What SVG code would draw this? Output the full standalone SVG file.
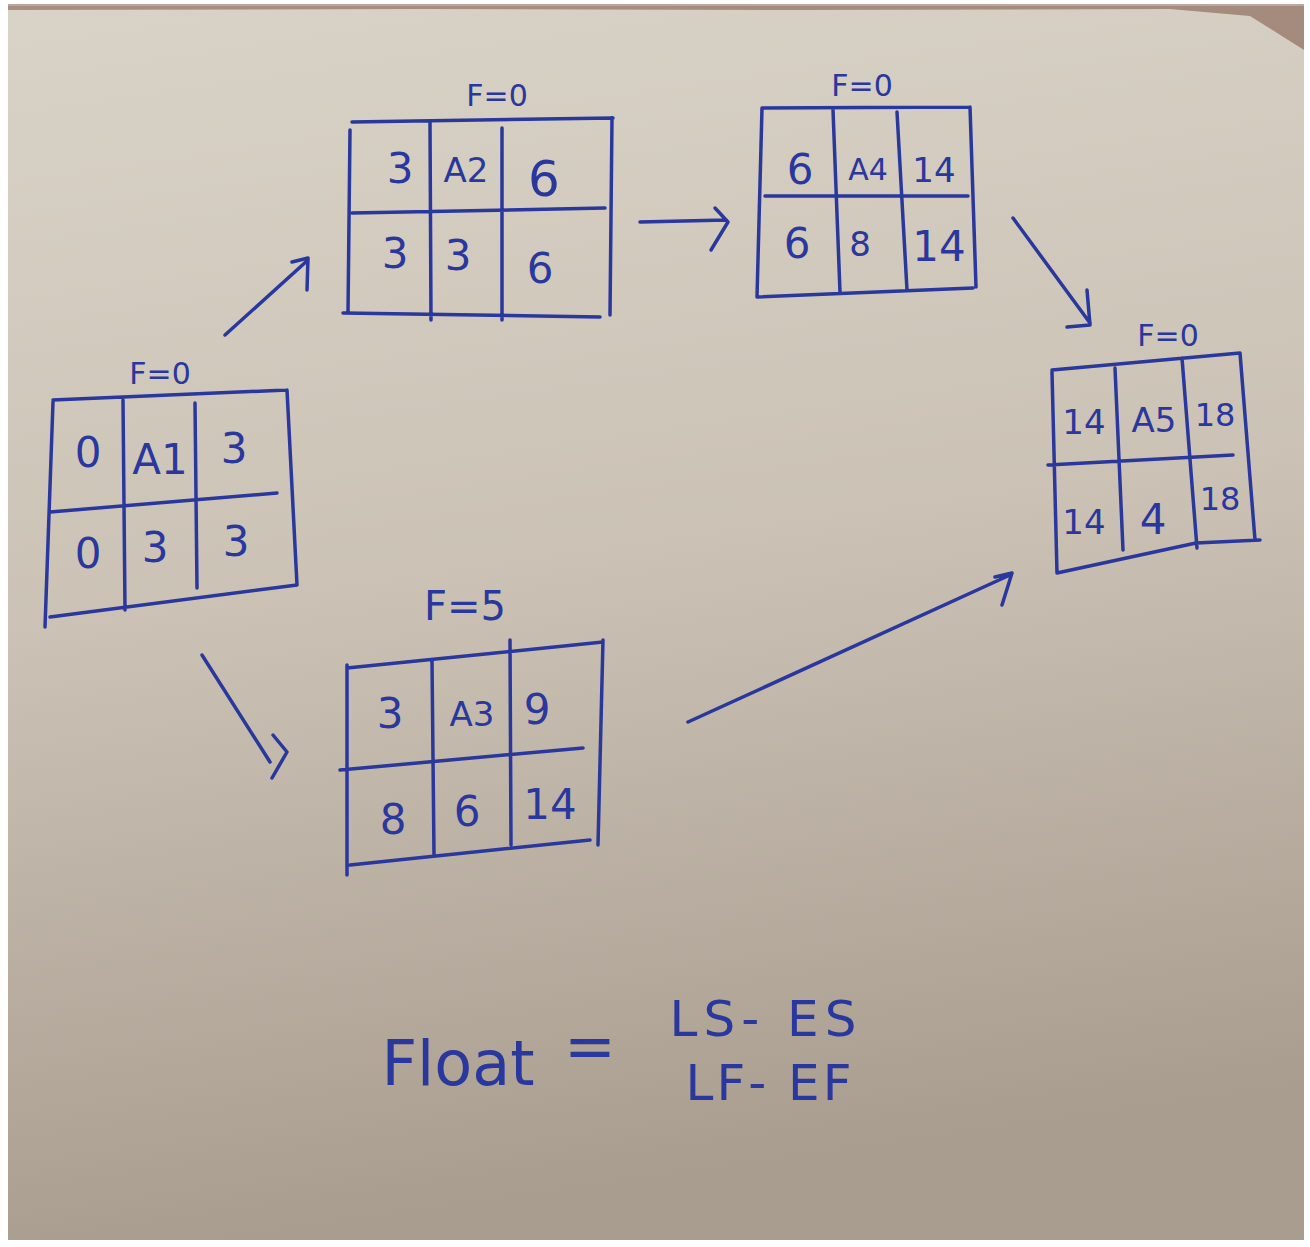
<svg xmlns="http://www.w3.org/2000/svg" width="1310" height="1247" viewBox="0 0 1310 1247">
<defs>
<linearGradient id="paper" x1="0" y1="0" x2="0.15" y2="1">
<stop offset="0" stop-color="#d9d3c7"/>
<stop offset="0.5" stop-color="#cbc2b5"/>
<stop offset="1" stop-color="#a99d8f"/>
</linearGradient>
<style>
.ink{fill:none;stroke:#2a379c;stroke-width:3.5;stroke-linecap:round;stroke-linejoin:round}
.t{font-family:"DejaVu Sans","Liberation Sans",sans-serif;fill:#2a379c;text-anchor:middle}
.c{font-size:42px}
.s{font-size:34px}
.f{font-size:30px}
.big{font-size:62px}
.frm{font-size:50px}
</style>
</defs>
<rect width="1310" height="1247" fill="#ffffff"/>
<rect x="8" y="6" width="1296" height="1234" fill="url(#paper)"/>
<path d="M8,4 L1304,4 L1304,50 L1250,16 L1170,9 L800,10 L420,9 L8,10 Z" fill="#6b3a2a" opacity="0.45"/>

<g id="node-A1">
<text class="t f" x="160" y="384">F=0</text>
<path class="ink" d="M53,400 L287,390 M53,402 L45,627 M287,390 L297,585 M50,617 L297,585 M50,512 L277,493 M123,400 L125,610 M195,403 L197,588"/>
<text class="t c" x="88" y="467">0</text>
<text class="t c" x="160" y="474">A1</text>
<text class="t c" x="234" y="463">3</text>
<text class="t c" x="88" y="568">0</text>
<text class="t c" x="155" y="562">3</text>
<text class="t c" x="236" y="556">3</text>
</g>

<g id="node-A2">
<text class="t f" x="497" y="106">F=0</text>
<path class="ink" d="M352,122 L613,118 M350,130 L348,313 M612,118 L610,315 M343,313 L600,317 M352,213 L605,208 M430,122 L431,320 M502,128 L502,320"/>
<text class="t c" x="400" y="183">3</text>
<text class="t s" x="466" y="182">A2</text>
<text class="t" style="font-size:50px" x="544" y="196">6</text>
<text class="t c" x="395" y="268">3</text>
<text class="t c" x="458" y="270">3</text>
<text class="t c" x="540" y="283">6</text>
</g>

<g id="node-A4">
<text class="t f" x="862" y="96">F=0</text>
<path class="ink" d="M762,108 L970,107 M762,108 L757,297 M970,107 L976,287 M757,297 L973,288 M765,196 L968,196 M833,110 L840,292 M897,112 L907,290"/>
<text class="t c" x="800" y="184">6</text>
<text class="t" style="font-size:30px" x="868" y="180">A4</text>
<text class="t s" x="934" y="182">14</text>
<text class="t c" x="797" y="258">6</text>
<text class="t s" x="860" y="256">8</text>
<text class="t c" x="939" y="261">14</text>
</g>

<g id="node-A5">
<text class="t f" x="1168" y="346">F=0</text>
<path class="ink" d="M1052,370 L1240,353 M1052,372 L1057,573 M1240,353 L1255,540 M1057,573 L1196,543 L1260,540 M1048,465 L1233,455 M1115,368 L1123,550 M1182,358 L1197,548"/>
<text class="t s" x="1084" y="434">14</text>
<text class="t s" x="1154" y="432">A5</text>
<text class="t" style="font-size:32px" x="1215" y="426">18</text>
<text class="t s" x="1084" y="534">14</text>
<text class="t c" x="1153" y="534">4</text>
<text class="t" style="font-size:32px" x="1220" y="510">18</text>
</g>

<g id="node-A3">
<text class="t" style="font-size:40px" x="465" y="620">F=5</text>
<path class="ink" d="M347,668 L603,642 M347,665 L347,875 M603,640 L598,845 M350,865 L590,840 M340,770 L583,748 M432,660 L434,855 M510,640 L511,845"/>
<text class="t c" x="390" y="728">3</text>
<text class="t s" x="472" y="726">A3</text>
<text class="t c" x="537" y="724">9</text>
<text class="t c" x="393" y="834">8</text>
<text class="t c" x="467" y="826">6</text>
<text class="t c" x="550" y="819">14</text>
</g>

<g id="connectors">
<path class="ink" d="M225,335 L308,260 M292,262 L308,258 L307,290"/>
<path class="ink" d="M640,222 L726,220 M715,208 L728,222 L711,250"/>
<path class="ink" d="M1013,218 L1090,323 M1087,290 L1090,325 L1067,327"/>
<path class="ink" d="M202,655 L270,762 M273,735 L287,752 L272,778"/>
<path class="ink" d="M688,722 L1010,575 M995,577 L1012,573 L1002,605"/>
</g>

<g id="formula">
<text class="t big" x="458" y="1085">Float</text>
<text class="t big" x="590" y="1068">=</text>
<text class="t frm" x="766" y="1036" letter-spacing="6">LS- ES</text>
<text class="t frm" x="770" y="1100" letter-spacing="3">LF- EF</text>
</g>
</svg>
